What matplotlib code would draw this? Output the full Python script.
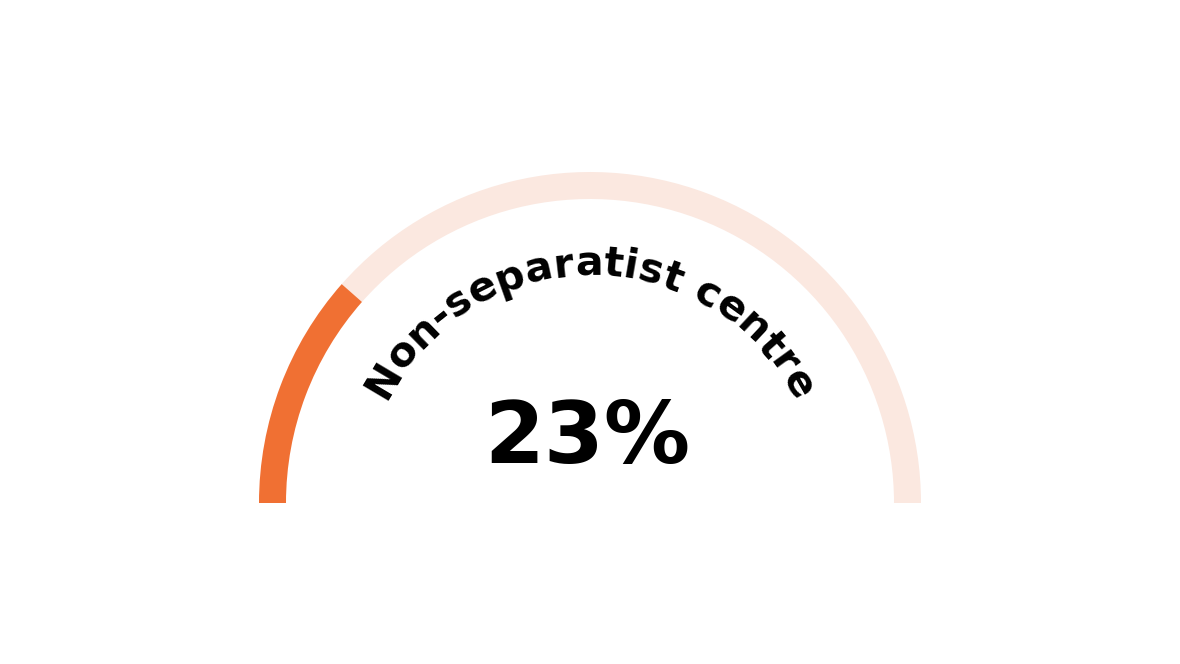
import numpy as np
import matplotlib.pyplot as plt
from matplotlib.patches import Wedge
from matplotlib.font_manager import FontProperties
from matplotlib.textpath import TextToPath

# data
label = "Non-separatist centre"
value = 23
total = 100
value_text = "23%"

orange = "#F07033"
light = "#FBE8E0"

fig = plt.figure(figsize=(11.8, 6.64), dpi=100)
ax = fig.add_axes([0, 0, 1, 1])
ax.set_xlim(0, 1180)
ax.set_ylim(0, 664)
ax.axis("off")

# gauge geometry (pixels)
cx, cy = 590, 161
r_out, ring = 331, 27

split = 180 - 180 * value / total
ax.add_patch(Wedge((cx, cy), r_out, 0, split, width=ring, color=light, lw=0))
ax.add_patch(Wedge((cx, cy), r_out, split, 180, width=ring, color=orange, lw=0))

# curved label
prop = FontProperties(family="DejaVu Sans", weight="bold", size=29.5)
t2p = TextToPath()
px = 100 / 72


def adv(s):
    if s == "":
        return 0.0
    w, h, d = t2p.get_text_width_height_descent(s, prop, ismath=False)
    return w * px


r_txt = 228
W = adv(label)
for i, ch in enumerate(label):
    s = adv(label[:i]) + adv(ch) / 2
    theta = np.pi / 2 + (W / 2 - s) / r_txt
    x = cx + r_txt * np.cos(theta)
    y = cy + r_txt * np.sin(theta)
    ax.text(x, y, ch, fontproperties=prop, ha="center", va="baseline",
            rotation=np.degrees(theta) - 90, rotation_mode="anchor", color="black")

ax.text(587, 201, value_text, fontsize=62, fontweight="bold", family="DejaVu Sans",
        ha="center", va="baseline", color="black")

fig.savefig("out.png", dpi=100)
